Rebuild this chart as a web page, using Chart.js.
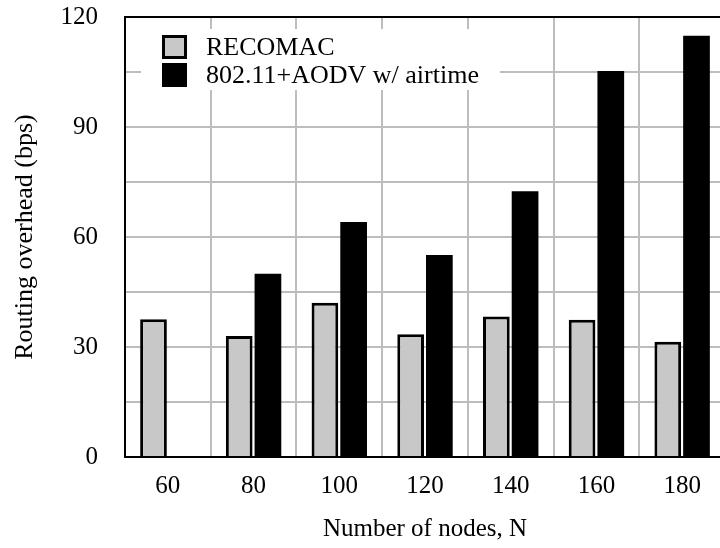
<!DOCTYPE html>
<html>
<head>
<meta charset="utf-8">
<title>Routing overhead</title>
<script src="https://cdn.jsdelivr.net/npm/chart.js@4.4.0/dist/chart.umd.min.js"></script>
<style>
    html, body { margin: 0; padding: 0; background: #fff; overflow: hidden; }
    #wrap { width: 740px; height: 548px; }
</style>
</head>
<body>
<div id="wrap"><canvas id="overheadChart"></canvas></div>
<script>

/*  Donnees  */

const nodeCounts = ["60", "80", "100", "120", "140", "160", "180"];
const recomacOverhead = [37.6, 33.0, 42.1, 33.5, 38.3, 37.4, 31.4];
const aodvOverhead = [null, 50.0, 64.1, 55.1, 72.5, 105.3, 114.9];
const seriesNames = ["RECOMAC", "802.11+AODV w/ airtime"];
const yLabelTicks = [0, 30, 60, 90, 120];

const SERIF = "'Liberation Serif', 'Times New Roman', serif";


/*  Plugin : cadre + legende dans le graphe  */

const frameAndLegend = {
    id: "frameAndLegend",
    beforeDatasetsDraw(chart) {
        const ctx = chart.ctx;
        const ca = chart.chartArea;
        const x0 = ca.left + 16, y0 = ca.top + 12;

        ctx.save();
        ctx.fillStyle = "#fff";
        ctx.fillRect(x0, y0, 359, 61);

        chart.data.datasets.forEach((ds, i) => {
            const sy = y0 + 6 + i * 28;
            ctx.fillStyle = ds.backgroundColor;
            ctx.fillRect(x0 + 21, sy, 25, 24);
            ctx.lineWidth = 3;
            ctx.strokeStyle = "#000";
            ctx.strokeRect(x0 + 22.5, sy + 1.5, 22, 21);

            ctx.fillStyle = "#000";
            ctx.font = "26px " + SERIF;
            ctx.textAlign = "left";
            ctx.textBaseline = "middle";
            ctx.fillText(ds.label, x0 + 65, sy + 13);
        });
        ctx.restore();
    },
    afterDatasetsDraw(chart) {
        const ctx = chart.ctx;
        const ca = chart.chartArea;
        ctx.save();
        ctx.lineWidth = 2;
        ctx.strokeStyle = "#000";
        ctx.strokeRect(ca.left, ca.top, ca.right - ca.left, ca.bottom - ca.top);
        ctx.restore();
    }
};


/*  Graphique  */

const ctx = document.getElementById("overheadChart").getContext("2d");

new Chart(ctx, {
    type: "bar",
    data: {
        labels: nodeCounts,
        datasets: [
            {
                label: seriesNames[0],
                data: recomacOverhead,
                backgroundColor: "#c8c8c8",
                borderColor: "#000",
                borderWidth: 3
            },
            {
                label: seriesNames[1],
                data: aodvOverhead,
                backgroundColor: "#000",
                borderWidth: 0
            }
        ]
    },
    options: {
        responsive: true,
        maintainAspectRatio: false,
        devicePixelRatio: 1,
        animation: false,
        layout: { padding: { left: 0, top: 17, right: 15, bottom: 0 } },
        datasets: {
            bar: { categoryPercentage: 0.67, barPercentage: 0.93 }
        },
        plugins: {
            legend: { display: false },
            tooltip: { enabled: false }
        },
        scales: {
            x: {
                grid: { color: "#bdbdbd", lineWidth: 2, drawTicks: false },
                border: { color: "#000", width: 2 },
                ticks: {
                    color: "#000",
                    padding: 14,
                    font: { family: SERIF, size: 25 }
                },
                title: {
                    display: true,
                    text: "Number of nodes, N",
                    color: "#000",
                    padding: { top: 0, bottom: 4 },
                    font: { family: SERIF, size: 25 }
                },
                afterFit: s => { s.height = 91; }
            },
            y: {
                min: 0,
                max: 120,
                // espace entre labels et axe via tickLength (ticks invisibles)
                grid: {
                    color: "#bdbdbd",
                    lineWidth: 2,
                    drawTicks: true,
                    tickLength: 27,
                    tickColor: "rgba(0,0,0,0)"
                },
                border: { color: "#000", width: 2 },
                ticks: {
                    stepSize: 15,
                    color: "#000",
                    padding: 0,
                    font: { family: SERIF, size: 25 },
                    callback: v => yLabelTicks.includes(v) ? v : ""
                },
                title: {
                    display: true,
                    text: "Routing overhead (bps)",
                    color: "#000",
                    padding: { top: 10, bottom: 0 },
                    font: { family: SERIF, size: 26 }
                },
                afterFit: s => { s.width = 125; }
            }
        }
    },
    plugins: [frameAndLegend]
});
</script>
</body>
</html>
